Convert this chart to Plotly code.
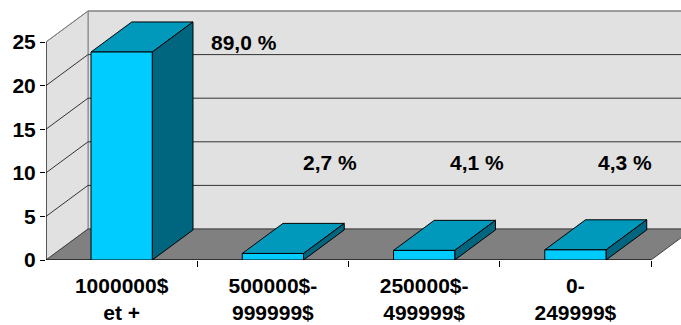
import plotly.graph_objects as go

# ---- data ----
categories = ["1000000$<br>et +", "500000$-<br>999999$", "250000$-<br>499999$", "0-<br>249999$"]
values = [23.85, 0.75, 1.1, 1.16]
pct_labels = ["89,0 %", "2,7 %", "4,1 %", "4,3 %"]
y_ticks = [0, 5, 10, 15, 20, 25]

# ---- geometry / style ----
W, H = 681, 325
ML, MB = 46, 65
PX_CAT = 151.25
PX_UNIT = 8.72
xr = [-0.5, -0.5 + (W - ML) / PX_CAT]
yr = [0, (H - MB) / PX_UNIT]
DX = 42 / PX_CAT
DY = 31 / PX_UNIT
BAR_W = 0.405
BAR_D = 0.97
YMAX = max(y_ticks)
FONT = "Arial, Liberation Sans, sans-serif"
FS = 21

WALL = "#e1e1e1"
FLOOR = "#808080"
FRONT = "#00ccff"
TOP = "#0099bb"
SIDE = "#006680"

fig = go.Figure()


def poly(xs, ys, fill, line="#000000", lw=1):
    fig.add_trace(go.Scatter(
        x=list(xs) + [xs[0]], y=list(ys) + [ys[0]], mode="lines",
        fill="toself", fillcolor=fill, line=dict(color=line, width=lw),
        hoverinfo="skip", showlegend=False))


def seg(x0, y0, x1, y1, color="#333333", lw=1):
    fig.add_trace(go.Scatter(
        x=[x0, x1], y=[y0, y1], mode="lines",
        line=dict(color=color, width=lw), hoverinfo="skip", showlegend=False))


left = -0.5
right = left + len(categories)
far = xr[1] + 1

# back wall
poly([left + DX, far, far, left + DX], [DY, DY, YMAX + DY, YMAX + DY], WALL, "#808080")
# side wall
poly([left, left + DX, left + DX, left], [0, DY, YMAX + DY, YMAX], WALL, "#808080")
# floor
poly([left, right, right + DX, left + DX], [0, 0, DY, DY], FLOOR, "#404040")

# gridlines
for v in y_ticks[1:-1]:
    seg(left, v, left + DX, v + DY, "#333333")
    seg(left + DX, v + DY, far, v + DY, "#333333")
seg(left, YMAX, left + DX, YMAX + DY, "#808080")
seg(left + DX, YMAX + DY, far, YMAX + DY, "#808080")

# front axis lines
seg(left, 0, left, YMAX, "#000000")
seg(left, 0, right, 0, "#000000")

# bars
for i, v in enumerate(values):
    x0 = i - BAR_W / 2
    x1 = i + BAR_W / 2
    dx = DX * BAR_D
    dy = DY * BAR_D
    poly([x0, x1, x1 + dx, x0 + dx], [v, v, v + dy, v + dy], TOP)
    poly([x1, x1 + dx, x1 + dx, x1], [0, dy, v + dy, v], SIDE)
    poly([x0, x1, x1, x0], [0, 0, v, v], FRONT)

# data labels
label_dx = [0.81, 0.38, 0.35, 0.33]
label_y = [YMAX, 11.2, 11.2, 11.2]
for i, t in enumerate(pct_labels):
    fig.add_annotation(x=i + label_dx[i], y=label_y[i], text=t, showarrow=False,
                       xref="x", yref="y",
                       font=dict(family=FONT, size=FS, color="#000000", weight="bold"))

fig.update_layout(
    width=W, height=H, margin=dict(l=ML, r=0, t=0, b=MB),
    paper_bgcolor="#ffffff", plot_bgcolor="#ffffff",
    xaxis=dict(range=xr, showgrid=False, zeroline=False, showline=False,
               tickvals=list(range(len(categories))), ticktext=categories,
               ticks="", ticklabelstandoff=11,
               tickfont=dict(family=FONT, size=FS, color="#000000", weight="bold"),
               minor=dict(tickvals=[k + 0.5 for k in range(len(categories))],
                          ticks="outside", ticklen=6, tickcolor="#000000", tickwidth=1,
                          showgrid=False)),
    yaxis=dict(range=yr, showgrid=False, zeroline=False, showline=False,
               tickvals=y_ticks, ticks="outside", ticklen=5, tickcolor="#000000",
               tickfont=dict(family=FONT, size=FS, color="#000000", weight="bold")),
)

fig.write_html("out.html")
